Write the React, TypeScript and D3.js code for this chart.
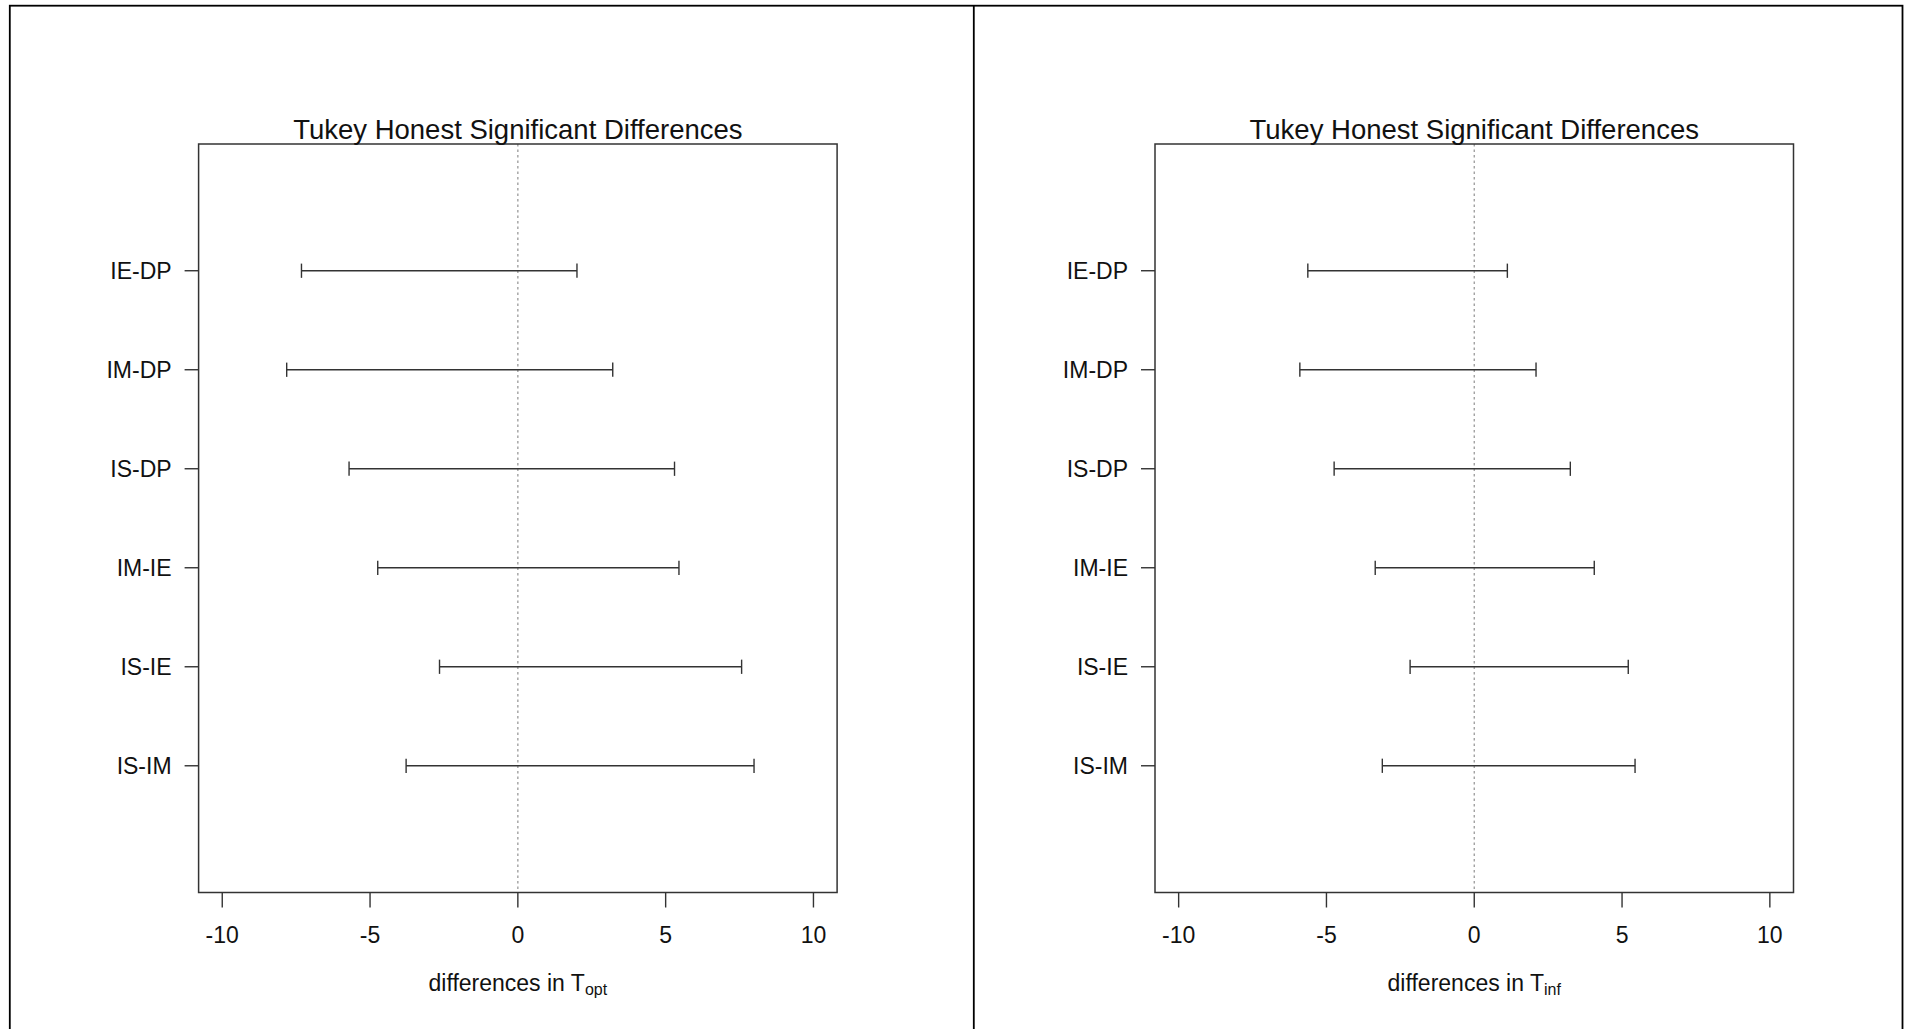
import React from "react";
import * as d3 from "d3";

// Pairwise comparisons, top to bottom
const comparisons = ["IE-DP", "IM-DP", "IS-DP", "IM-IE", "IS-IE", "IS-IM"];

// 95% family-wise confidence limits for T_opt
const toptLower = [-7.32, -7.82, -5.71, -4.74, -2.65, -3.78];
const toptUpper = [2.0, 3.21, 5.3, 5.45, 7.57, 7.99];

// 95% family-wise confidence limits for T_inf
const tinfLower = [-5.63, -5.9, -4.74, -3.35, -2.17, -3.11];
const tinfUpper = [1.12, 2.09, 3.25, 4.06, 5.21, 5.44];

const xTicks = [-10, -5, 0, 5, 10];
const titleText = "Tukey Honest Significant Differences";

const WIDTH = 1906;
const HEIGHT = 1029;
const FONT = "'Liberation Sans', Arial, Helvetica, sans-serif";
const INK = "#333";

type PanelProps = {
  left: number;
  right: number;
  lower: number[];
  upper: number[];
  sub: string;
};

function Panel({ left, right, lower, upper, sub }: PanelProps) {
  const top = 144;
  const bottom = 892.5;
  // R-style limits: xlim c(-10, 10) and ylim c(0, 7), each widened by 4%
  const x = d3.scaleLinear().domain([-10.8, 10.8]).range([left, right]);
  const y = d3.scaleLinear().domain([-0.28, 7.28]).range([bottom, top]);
  const n = comparisons.length;
  const rowY = (i: number) => y(n - i);
  const capHalf = y(0) - y(0.072);
  const cx = (left + right) / 2;

  return (
    <g>
      {/* zero reference */}
      <line
        x1={x(0)}
        x2={x(0)}
        y1={top}
        y2={bottom}
        stroke="#999"
        strokeWidth={1.3}
        strokeDasharray="2.5,3"
      />
      {/* intervals */}
      {comparisons.map((c, i) => {
        const yy = rowY(i);
        return (
          <g key={c}>
            <line x1={x(lower[i])} x2={x(upper[i])} y1={yy} y2={yy} stroke={INK} strokeWidth={1.4} />
            <line x1={x(lower[i])} x2={x(lower[i])} y1={yy - capHalf} y2={yy + capHalf} stroke={INK} strokeWidth={1.4} />
            <line x1={x(upper[i])} x2={x(upper[i])} y1={yy - capHalf} y2={yy + capHalf} stroke={INK} strokeWidth={1.4} />
          </g>
        );
      })}
      {/* plot frame */}
      <rect x={left} y={top} width={right - left} height={bottom - top} fill="none" stroke={INK} strokeWidth={1.5} />
      {/* y axis ticks and labels */}
      {comparisons.map((c, i) => {
        const yy = rowY(i);
        return (
          <g key={"y" + c}>
            <line x1={left - 14} x2={left} y1={yy} y2={yy} stroke={INK} strokeWidth={1.4} />
            <text x={left - 27} y={yy + 8.3} textAnchor="end" fontSize={23} fill="#111" fontFamily={FONT}>
              {c}
            </text>
          </g>
        );
      })}
      {/* x axis ticks and labels */}
      {xTicks.map((t) => (
        <g key={"x" + t}>
          <line x1={x(t)} x2={x(t)} y1={bottom} y2={bottom + 15} stroke={INK} strokeWidth={1.4} />
          <text x={x(t)} y={942.7} textAnchor="middle" fontSize={23} fill="#111" fontFamily={FONT}>
            {t}
          </text>
        </g>
      ))}
      {/* title */}
      <text x={cx} y={139} textAnchor="middle" fontSize={27.5} fill="#111" fontFamily={FONT}>
        {titleText}
      </text>
      {/* axis label with subscript */}
      <text x={cx} y={990.5} textAnchor="middle" fontSize={23} fill="#111" fontFamily={FONT}>
        <tspan>differences in T</tspan>
        <tspan fontSize={16} dy={4.5}>
          {sub}
        </tspan>
      </text>
    </g>
  );
}

export default function App() {
  return (
    <svg
      width={WIDTH}
      height={HEIGHT}
      viewBox={`0 0 ${WIDTH} ${HEIGHT}`}
      style={{ position: "absolute", left: 0, top: 0, display: "block", background: "#fff" }}
    >
      <rect x={0} y={0} width={WIDTH} height={HEIGHT} fill="#fff" />
      {/* outer frame and divider */}
      <rect x={9.8} y={5.7} width={1902.5 - 9.8} height={HEIGHT + 20} fill="none" stroke="#000" strokeWidth={1.8} />
      <line x1={973.8} x2={973.8} y1={5.7} y2={HEIGHT + 10} stroke="#000" strokeWidth={1.8} />
      <Panel left={198.6} right={837.1} lower={toptLower} upper={toptUpper} sub="opt" />
      <Panel left={1155} right={1793.5} lower={tinfLower} upper={tinfUpper} sub="inf" />
    </svg>
  );
}
